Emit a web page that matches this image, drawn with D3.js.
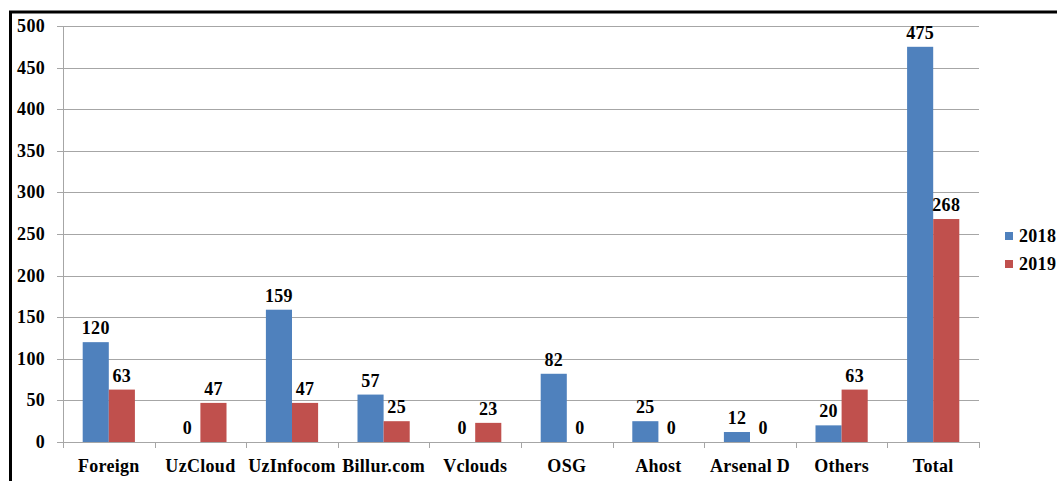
<!DOCTYPE html>
<html>
<head>
<meta charset="utf-8">
<script src="https://cdn.jsdelivr.net/npm/d3@7"></script>
<style>
    body { margin: 0; background: #fff; }
</style>
</head>
<body>
<div id="chart"></div>
<script>
// Chart data
const categories = ["Foreign", "UzCloud", "UzInfocom", "Billur.com", "Vclouds", "OSG", "Ahost", "Arsenal D", "Others", "Total"];
const seriesNames = ["2018", "2019"];
const values2018 = [120, 0, 159, 57, 0, 82, 25, 12, 20, 475];
const values2019 = [63, 47, 47, 25, 23, 0, 0, 0, 63, 268];
const yTicks = [0, 50, 100, 150, 200, 250, 300, 350, 400, 450, 500];

const colors = ["#4F81BD", "#C0504D"];
const fontFamily = "'Liberation Serif', 'Times New Roman', 'DejaVu Serif', serif";
const fontSize = "18px";
const width = 1057, height = 481;
const margin = { left: 63, right: 78, top: 26, bottom: 39 };

const svg = d3.select("#chart").append("svg")
    .attr("width", width)
    .attr("height", height)
    .style("font-family", fontFamily)
    .style("font-weight", "bold")
    .style("letter-spacing", "0.3px");

// frame
svg.append("rect")
    .attr("x", 10.5).attr("y", 12)
    .attr("width", width + 10).attr("height", height + 10)
    .attr("fill", "none").attr("stroke", "#000").attr("stroke-width", 3);

const x0 = d3.scaleBand()
    .domain(categories)
    .range([margin.left, width - margin.right])
    .paddingInner(0.43).paddingOuter(0.215);

const x1 = d3.scaleBand()
    .domain(seriesNames)
    .range([0, x0.bandwidth()]);

const y = d3.scaleLinear()
    .domain([0, 500])
    .range([height - margin.bottom, margin.top]);

// gridlines
svg.append("g")
    .selectAll("line")
    .data(yTicks)
    .join("line")
    .attr("x1", margin.left - 6)
    .attr("x2", width - margin.right)
    .attr("y1", d => Math.round(y(d)) + 0.5)
    .attr("y2", d => Math.round(y(d)) + 0.5)
    .attr("stroke", "#a6a6a6");

// y axis
svg.append("line")
    .attr("x1", margin.left + 0.5).attr("x2", margin.left + 0.5)
    .attr("y1", y(500)).attr("y2", y(0))
    .attr("stroke", "#a6a6a6");

svg.append("g")
    .selectAll("text")
    .data(yTicks)
    .join("text")
    .attr("x", 45)
    .attr("y", d => y(d) + 6)
    .attr("text-anchor", "end")
    .attr("font-size", fontSize)
    .text(d => d);

// x axis ticks
const xTickPos = d3.range(categories.length + 1).map(i => margin.left + i * (width - margin.right - margin.left) / categories.length);
svg.append("g")
    .selectAll("line")
    .data(xTickPos)
    .join("line")
    .attr("x1", d => Math.round(d) + 0.5)
    .attr("x2", d => Math.round(d) + 0.5)
    .attr("y1", y(0))
    .attr("y2", y(0) + 6)
    .attr("stroke", "#a6a6a6");

svg.append("g")
    .selectAll("text")
    .data(categories)
    .join("text")
    .attr("x", d => x0(d) + x0.bandwidth() / 2)
    .attr("y", 472)
    .attr("text-anchor", "middle")
    .attr("font-size", fontSize)
    .text(d => d);

// bars
const rows = categories.map((c, i) => ({ category: c, values: [values2018[i], values2019[i]] }));

const groups = svg.append("g")
    .selectAll("g")
    .data(rows)
    .join("g")
    .attr("transform", d => `translate(${x0(d.category)},0)`);

groups.selectAll("rect")
    .data(d => d.values.map((v, j) => ({ key: seriesNames[j], value: v, idx: j })))
    .join("rect")
    .attr("x", d => x1(d.key))
    .attr("y", d => y(d.value))
    .attr("width", x1.bandwidth())
    .attr("height", d => y(0) - y(d.value))
    .attr("fill", d => colors[d.idx]);

groups.selectAll("text")
    .data(d => d.values.map((v, j) => ({ key: seriesNames[j], value: v })))
    .join("text")
    .attr("x", d => x1(d.key) + x1.bandwidth() / 2)
    .attr("y", d => y(d.value) - 8)
    .attr("text-anchor", "middle")
    .attr("font-size", fontSize)
    .text(d => d.value);

// legend
const legend = svg.append("g")
    .selectAll("g")
    .data(seriesNames)
    .join("g")
    .attr("transform", (d, i) => `translate(1005, ${232 + i * 28})`);

legend.append("rect")
    .attr("width", 8).attr("height", 8)
    .attr("fill", (d, i) => colors[i]);

legend.append("text")
    .attr("x", 14)
    .attr("y", 10)
    .attr("font-size", fontSize)
    .text(d => d);
</script>
</body>
</html>
